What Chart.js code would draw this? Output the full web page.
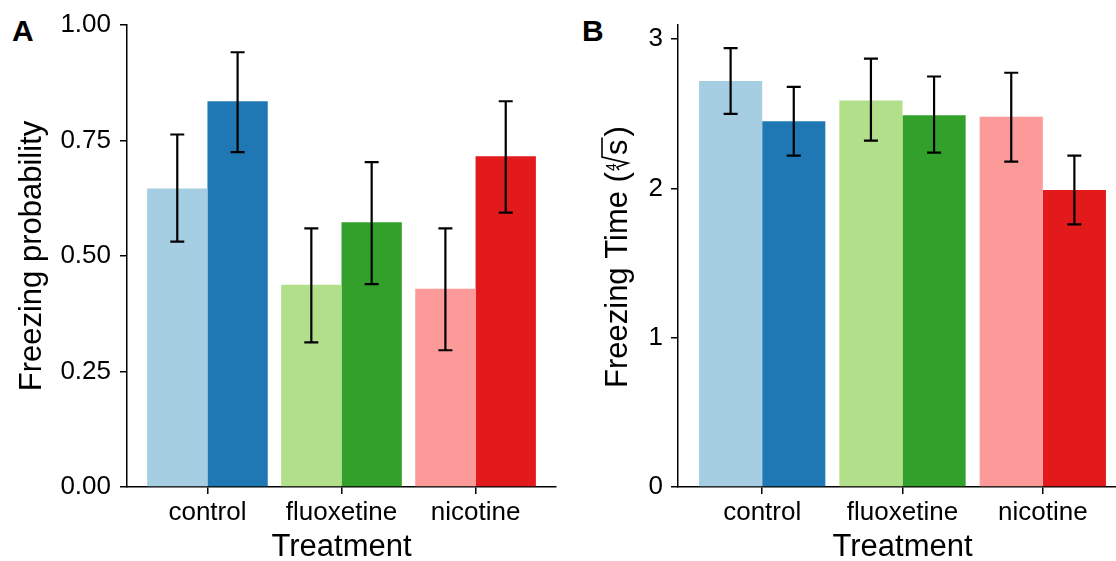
<!DOCTYPE html>
<html>
<head>
<meta charset="utf-8">
<script src="https://cdn.jsdelivr.net/npm/chart.js@4.4.1/dist/chart.umd.min.js"></script>
<style>
  html, body { margin: 0; padding: 0; background: #fff; overflow: hidden; }
  body { width: 1116px; height: 561px; position: relative; }
  canvas { position: absolute; top: 0; }
  #chartA { left: 0; }
  #chartB { left: 558px; }
  .tag { position: absolute; top: 14px; font: bold 30px "Liberation Sans", Arial, sans-serif; color: #000; }
</style>
</head>
<body>
<div class="tag" style="left:12px">A</div>
<div class="tag" style="left:582px">B</div>
<canvas id="chartA" width="580" height="561"></canvas>
<canvas id="chartB" width="600" height="561"></canvas>
<script>
// ---- data ----
const treatments = ['control', 'fluoxetine', 'nicotine'];
const lightColors = ['#A6CEE3', '#B2DF8A', '#FB9A99'];
const darkColors  = ['#1F78B4', '#33A02C', '#E31A1C'];

// panel A: freezing probability
const probLight   = [0.646, 0.438, 0.429];
const probLightLo = [0.531, 0.313, 0.296];
const probLightHi = [0.763, 0.560, 0.560];
const probDark    = [0.835, 0.573, 0.716];
const probDarkLo  = [0.725, 0.439, 0.594];
const probDarkHi  = [0.941, 0.703, 0.835];
const probTicks   = [0, 0.25, 0.5, 0.75, 1];

// panel B: freezing time (4th root of seconds)
const timeLight   = [2.72, 2.59, 2.48];
const timeLightLo = [2.50, 2.32, 2.18];
const timeLightHi = [2.94, 2.87, 2.775];
const timeDark    = [2.45, 2.49, 1.99];
const timeDarkLo  = [2.22, 2.24, 1.76];
const timeDarkHi  = [2.68, 2.75, 2.22];
const timeTicks   = [0, 1, 2, 3];

const FONT = '"Liberation Sans", Arial, sans-serif';
const INK = '#000';

const pts = (vals) => vals.map((v, i) => ({ x: i + 1, y: v }));

const errorBarsPlugin = {
    id: 'errorBars',
    afterDatasetsDraw: (chart) => {
        const ctx = chart.ctx;
        const yAxis = chart.scales.y;
        chart.data.datasets.forEach((ds, di) => {
            const meta = chart.getDatasetMeta(di);
            meta.data.forEach((bar, i) => {
                const yLo = yAxis.getPixelForValue(ds.lo[i]);
                const yHi = yAxis.getPixelForValue(ds.hi[i]);
                ctx.save();
                ctx.strokeStyle = INK;
                ctx.lineWidth = 2.2;
                ctx.beginPath();
                ctx.moveTo(bar.x, yLo);
                ctx.lineTo(bar.x, yHi);
                ctx.moveTo(bar.x - 7, yLo);
                ctx.lineTo(bar.x + 7, yLo);
                ctx.moveTo(bar.x - 7, yHi);
                ctx.lineTo(bar.x + 7, yHi);
                ctx.stroke();
                ctx.restore();
            });
        });
    }
};

// y title of panel B: "Freezing Time (4th-root s)" with a drawn radical
const rootTitlePlugin = {
    id: 'rootTitle',
    afterDraw: (chart) => {
        const opts = chart.config.options.plugins.rootTitle;
        if (!opts) return;
        const ctx = chart.ctx;
        const yAxis = chart.scales.y;
        ctx.save();
        ctx.translate(yAxis.left + opts.baseline, yAxis.bottom - opts.start);
        ctx.rotate(-Math.PI / 2);
        ctx.fillStyle = INK;
        ctx.strokeStyle = INK;
        ctx.textBaseline = 'alphabetic';
        ctx.textAlign = 'left';
        ctx.font = '31px ' + FONT;
        let x = 0;
        ctx.fillText(opts.before, x, 0);
        x += ctx.measureText(opts.before).width + 1;
        // small index
        ctx.font = '14px ' + FONT;
        ctx.fillText(opts.index, x, -11);
        // radical sign + overline
        ctx.font = '31px ' + FONT;
        const sw = ctx.measureText(opts.radicand).width;
        ctx.lineWidth = 1.6;
        ctx.beginPath();
        ctx.moveTo(x + 1, -8);
        ctx.lineTo(x + 4, -10);
        ctx.lineTo(x + 8, 1);
        ctx.lineTo(x + 14, -25);
        ctx.lineTo(x + 16 + sw + 2, -25);
        ctx.stroke();
        x += 16;
        ctx.fillText(opts.radicand, x, 0);
        x += sw + 3;
        ctx.fillText(opts.after, x, 0);
        ctx.restore();
    }
};

function makeChart(id, cfg) {
    return new Chart(document.getElementById(id), {
        type: 'bar',
        data: {
            datasets: [
                { data: pts(cfg.light), lo: cfg.lightLo, hi: cfg.lightHi, backgroundColor: lightColors, borderWidth: 0 },
                { data: pts(cfg.dark), lo: cfg.darkLo, hi: cfg.darkHi, backgroundColor: darkColors, borderWidth: 0 }
            ]
        },
        options: {
            responsive: false, animation: false, devicePixelRatio: 1,
            categoryPercentage: 0.9, barPercentage: 1.0,
            layout: { padding: { top: 25, right: cfg.padRight, bottom: 0, left: 0 } },
            plugins: { legend: { display: false }, tooltip: { enabled: false }, rootTitle: cfg.rootTitle },
            scales: {
                x: {
                    type: 'linear', min: 0.4, max: 3.6, offset: false,
                    afterBuildTicks: (s) => { s.ticks = treatments.map((t, i) => ({ value: i + 1 })); },
                    afterFit: (s) => { s.height = cfg.xHeight; },
                    ticks: { autoSkip: false, maxRotation: 0, padding: 3, color: INK,
                             font: { family: FONT, size: 26 },
                             callback: (v) => treatments[v - 1] },
                    grid: { drawOnChartArea: false, drawTicks: true, tickLength: 7, color: INK, lineWidth: 1.5, offset: false },
                    border: { display: true, color: INK, width: 1.5 },
                    title: { display: true, text: 'Treatment', color: INK, padding: { top: 0, bottom: -2 },
                             font: { family: FONT, size: 31, lineHeight: 1 } }
                },
                y: {
                    min: 0, max: cfg.yMax,
                    afterBuildTicks: (s) => { s.ticks = cfg.yTicks.map(v => ({ value: v })); },
                    afterFit: (s) => { s.width = cfg.yWidth; },
                    ticks: { padding: cfg.yTickPad, color: INK, font: { family: FONT, size: 26 },
                             callback: cfg.yFmt },
                    grid: { drawOnChartArea: false, drawTicks: true, tickLength: 7, color: INK, lineWidth: 1.5 },
                    border: { display: true, color: INK, width: 1.5 },
                    title: { display: !!cfg.yTitle, text: cfg.yTitle, color: INK, padding: { top: cfg.yTitlePad, bottom: 0 },
                             font: { family: FONT, size: 31, lineHeight: 1 } }
                }
            }
        },
        plugins: [errorBarsPlugin, rootTitlePlugin]
    });
}

makeChart('chartA', {
    light: probLight, lightLo: probLightLo, lightHi: probLightHi,
    dark: probDark, darkLo: probDarkLo, darkHi: probDarkHi,
    yMax: 1, yTicks: probTicks, yFmt: (v) => v.toFixed(2),
    yTitle: 'Freezing probability', yWidth: 127, yTickPad: 9, yTitlePad: 17,
    xHeight: 74, padRight: 24, rootTitle: null
});

makeChart('chartB', {
    light: timeLight, lightLo: timeLightLo, lightHi: timeLightHi,
    dark: timeDark, darkLo: timeDarkLo, darkHi: timeDarkHi,
    yMax: 3.095, yTicks: timeTicks, yFmt: (v) => String(v),
    yTitle: '', yWidth: 120, yTickPad: 8, yTitlePad: 43,
    xHeight: 74, padRight: 31,
    rootTitle: { before: 'Freezing Time (', index: '4', radicand: 's', after: ')', baseline: 69, start: 99 }
});
</script>
</body>
</html>
